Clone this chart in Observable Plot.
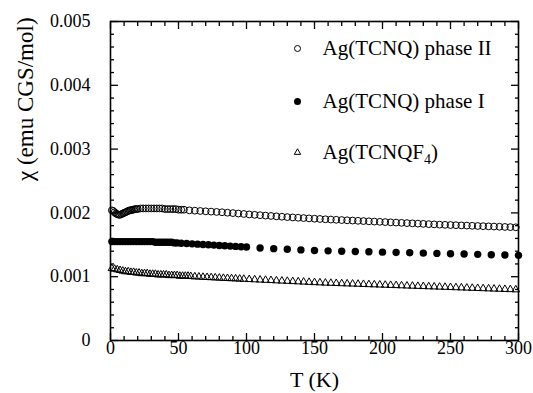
<!DOCTYPE html>
<html><head><meta charset="utf-8">
<script src="https://cdn.jsdelivr.net/npm/d3@7"></script>
<script src="https://cdn.jsdelivr.net/npm/@observablehq/plot@0.6"></script>
<style>body{margin:0;background:#fff}#chart{width:533px;height:393px}#chart svg text{font-family:"Liberation Serif","Times New Roman","DejaVu Serif",serif !important}</style>
</head><body><div id="chart"></div>
<script>
// ---- axes / labels ----
const xMajor = [0, 50, 100, 150, 200, 250, 300];
const xTickLabels = ["0", "50", "100", "150", "200", "250", "300"];
const xMinor = [10, 20, 30, 40, 60, 70, 80, 90, 110, 120, 130, 140, 160, 170, 180, 190, 210, 220, 230, 240, 260, 270, 280, 290];
const yMajor = [0, 0.001, 0.002, 0.003, 0.004, 0.005];
const yTickLabels = ["0", "0.001", "0.002", "0.003", "0.004", "0.005"];
const yMinor = [0.0002, 0.0004, 0.0006, 0.0008, 0.0012, 0.0014, 0.0016, 0.0018, 0.0022, 0.0024, 0.0026, 0.0028, 0.0032, 0.0034, 0.0036, 0.0038, 0.0042, 0.0044, 0.0046, 0.0048];
const xTitle = "T (K)";
const yTitle = "χ (emu CGS/mol)";
const seriesNames = ["Ag(TCNQ) phase II", "Ag(TCNQ) phase I", "Ag(TCNQF4)"];

// ---- Ag(TCNQ) phase II (open circles) ----
const phaseII_T = [1,2,3,4,5,6,7,8,9,10,11,12,13,14,15,16,17,18,19,20,22,24,26,28,30,32,34,36,38,40,42,44,46,48,50,52,54,
  58,62,66,70,74,78,82,86,90,94,98,102,106,110,114,118,122,126,130,134,138,142,146,150,154,158,162,166,170,174,178,182,186,190,194,198,
  202,206,210,214,218,222,226,230,234,238,242,246,250,254,258,262,266,270,274,278,282,286,290,294,298];
const phaseII_chi = [0.00204,0.00203,0.00201,0.00199,0.00198,0.00197,0.00197,0.00198,0.00199,0.00200,0.00201,0.00202,0.00203,0.00204,0.00204,0.00205,0.00205,0.00206,0.00206,0.00206,
  0.00207,0.00207,0.00207,0.00207,0.00207,0.00207,0.00207,0.00207,0.00207,0.00206,0.00206,0.00206,0.00206,0.00206,0.00205,0.00205,0.00205,
  0.00204,0.002035,0.00203,0.002025,0.00202,0.002015,0.00201,0.002003,0.001997,0.00199,0.001983,0.001976,0.00197,0.001964,0.001958,0.001952,0.001946,0.00194,0.001934,0.001929,
  0.001924,0.001919,0.001914,0.001909,0.001905,0.0019,0.001896,0.001892,0.001888,0.001884,0.00188,0.001876,0.001872,0.001868,0.001864,0.00186,
  0.001856,0.001852,0.001848,0.001844,0.00184,0.001836,0.001832,0.001828,0.001824,0.00182,0.001816,0.001813,0.00181,0.001807,0.001804,0.001801,
  0.001798,0.001795,0.001792,0.001789,0.001786,0.001783,0.00178,0.001777,0.001774];

// ---- Ag(TCNQ) phase I (filled circles) ----
const phaseI_T = [1,3,5,7,9,11,13,15,17,19,21,23,25,27,29,31,33,35,37,39,41,43,45,47,49,
  52,56,60,64,68,72,76,80,84,88,92,96,100,
  110,120,130,140,150,160,170,180,190,200,210,220,230,240,250,260,270,280,290,300];
const phaseI_chi = [0.00155,0.00155,0.00155,0.00155,0.00155,0.00155,0.00155,0.00155,0.00155,0.00155,0.00155,0.00155,0.00155,0.00155,0.00155,0.00155,0.00154,0.00154,0.00154,0.00154,0.00154,0.00154,0.00154,0.00153,0.00153,
  0.001525,0.00152,0.001515,0.00151,0.001505,0.0015,0.001495,0.00149,0.001485,0.00148,0.001475,0.00147,0.001465,
  0.00145,0.00144,0.00143,0.00142,0.00141,0.001405,0.0014,0.001395,0.00139,0.001385,0.00138,0.001375,0.00137,0.001365,0.00136,0.001355,0.00135,0.001345,0.00134,0.001335];

// ---- Ag(TCNQF4) (open triangles) ----
const f4_T = [1,3,5,7,9,11,13,15,17,19,21,23,25,27,29,31,33,35,37,39,41,43,45,47,49,51,53,55,57,59,
  62,65,68,71,74,77,80,83,86,89,92,95,98,
  102,106,110,114,118,122,126,130,134,138,142,146,150,154,158,162,166,170,174,178,182,186,190,194,198,
  202,206,210,214,218,222,226,230,234,238,242,246,250,254,258,262,266,270,274,278,282,286,290,294,298];
const f4_chi = [0.00113,0.00112,0.00111,0.00110,0.00109,0.00108,0.00108,0.00107,0.00107,0.00106,0.00106,0.00105,0.00105,0.00105,0.00104,0.00104,0.00104,0.00103,0.00103,0.00103,
  0.00103,0.00102,0.00102,0.00102,0.00102,0.00101,0.00101,0.00101,0.00101,0.001005,
  0.001,0.000997,0.000993,0.00099,0.000987,0.000984,0.00098,0.000977,0.000974,0.000971,0.000968,0.000965,0.000962,
  0.000958,0.000954,0.00095,0.000946,0.000942,0.000938,0.000934,0.00093,0.000926,0.000922,0.000918,0.000914,0.00091,0.000906,0.000902,0.000899,
  0.000896,0.000893,0.00089,0.000887,0.000884,0.000881,0.000878,0.000875,0.000872,0.000869,0.000866,0.000863,0.00086,0.000857,0.000854,0.000851,
  0.000848,0.000845,0.000842,0.000839,0.000836,0.000833,0.00083,0.000827,0.000824,0.000821,0.000818,0.000815,0.000812,0.000809,0.000806,0.000803,0.0008,0.000797];

const rows = (T, chi) => T.map((t, i) => ({T: t, chi: chi[i]}));
const blank = () => "";
const serif = "'Liberation Serif', 'Times New Roman', serif";

const legendMarks = [];
const legendSym = [
  {symbol: "circle", r: 3, fill: "none", stroke: "black"},
  {symbol: "circle", r: 3.5, fill: "black", stroke: "none"},
  {symbol: "triangle", r: 2.4, fill: "none", stroke: "black"}
];
const legendDy = [27, 80, 131];
seriesNames.forEach((name, i) => {
  legendMarks.push(Plot.dot([name], {frameAnchor: "top-left", dx: 187, dy: legendDy[i], ...legendSym[i], strokeWidth: 1}));
  legendMarks.push(Plot.text([name], {frameAnchor: "top-left", dx: 212, dy: legendDy[i], text: d => d, textAnchor: "start", lineAnchor: "middle", fontSize: 21}));
});

const plot = Plot.plot({
  width: 533, height: 393,
  marginLeft: 110, marginRight: 15, marginTop: 21, marginBottom: 53,
  x: {domain: [0, 300], axis: null},
  y: {domain: [0, 0.005], axis: null},
  style: {fontFamily: serif, fontSize: "18px", color: "black", background: "white", overflow: "visible"},
  marks: [
    Plot.dot(rows(f4_T, f4_chi), {x: "T", y: "chi", symbol: "triangle", r: 2.8, stroke: "black", strokeWidth: 1, fill: "none"}),
    Plot.dot(rows(phaseI_T, phaseI_chi), {x: "T", y: "chi", r: 3.7, fill: "black", stroke: "none"}),
    Plot.dot(rows(phaseII_T, phaseII_chi), {x: "T", y: "chi", r: 3.4, stroke: "black", strokeWidth: 1, fill: "none"}),
    // bottom axis
    Plot.axisX(xMajor, {anchor: "bottom", tickSize: -7, tickPadding: 8, tickFormat: d => xTickLabels[xMajor.indexOf(d)], fontSize: 18, label: null, strokeWidth: 1.3}),
    Plot.axisX(xMinor, {anchor: "bottom", tickSize: -4, tickFormat: blank, label: null, strokeWidth: 1.3}),
    // top axis
    Plot.axisX(xMajor, {anchor: "top", tickSize: -7, tickFormat: blank, label: null, strokeWidth: 1.3}),
    Plot.axisX(xMinor, {anchor: "top", tickSize: -4, tickFormat: blank, label: null, strokeWidth: 1.3}),
    // left axis
    Plot.axisY(yMajor, {anchor: "left", tickSize: -8, tickPadding: 28, tickFormat: d => yTickLabels[yMajor.indexOf(d)], fontSize: 18, label: null, strokeWidth: 1.3}),
    Plot.axisY(yMinor, {anchor: "left", tickSize: -4, tickFormat: blank, label: null, strokeWidth: 1.3}),
    // right axis
    Plot.axisY(yMajor, {anchor: "right", tickSize: -8, tickFormat: blank, label: null, strokeWidth: 1.3}),
    Plot.axisY(yMinor, {anchor: "right", tickSize: -4, tickFormat: blank, label: null, strokeWidth: 1.3}),
    Plot.frame({stroke: "black", strokeWidth: 1.6}),
    // titles
    Plot.text([xTitle], {frameAnchor: "bottom", dy: 31, text: d => d, lineAnchor: "top", fontSize: 22}),
    Plot.text([yTitle], {frameAnchor: "left", dx: -85, rotate: -90, text: d => d, lineAnchor: "middle", fontSize: 23}),
    ...legendMarks
  ]
});

// serif font on every text, subscript 4 in Ag(TCNQF4)
const ns = "http://www.w3.org/2000/svg";
plot.querySelectorAll("text").forEach(t => {
  t.style.fontFamily = "'Liberation Serif', 'Times New Roman', serif";
  if (t.textContent === "Ag(TCNQF4)") {
    t.textContent = "";
    const a = document.createElementNS(ns, "tspan"); a.textContent = "Ag(TCNQF";
    const b = document.createElementNS(ns, "tspan"); b.textContent = "4"; b.setAttribute("dy", "5"); b.setAttribute("font-size", "14");
    const c = document.createElementNS(ns, "tspan"); c.textContent = ")"; c.setAttribute("dy", "-5");
    t.append(a, b, c);
  }
});

document.getElementById("chart").append(plot);
</script>
</body></html>
